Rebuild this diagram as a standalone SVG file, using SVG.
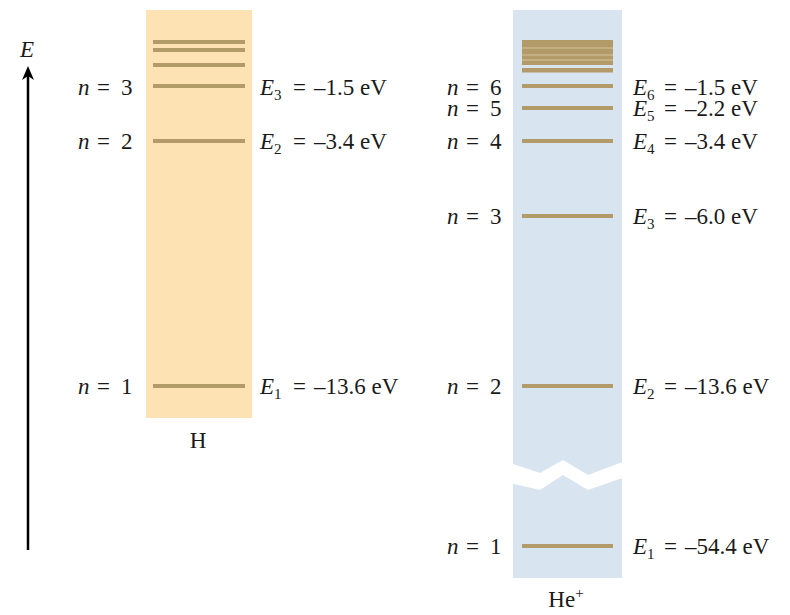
<svg xmlns="http://www.w3.org/2000/svg" width="790" height="615" viewBox="0 0 790 615">
<defs>
<style>
.t{font-family:"Liberation Serif","Times New Roman",serif;font-size:23px;fill:#1a1a1a}
.i{font-style:italic}
.sub{font-size:15px}
.lvl{fill:#b39b69}
</style>
</defs>
<rect width="790" height="615" fill="#fff"/>

<g id="axis">
<line x1="28" y1="550" x2="28" y2="72" stroke="#000" stroke-width="2.5"/>
<path d="M28,66 L34,80 L28,76 L22,80 Z" fill="#000"/>
<text class="t i" x="20" y="57" font-size="20">E</text>
</g>

<g id="H">
<rect x="146" y="10" width="106" height="408" fill="#fde3b4"/>
<rect class="lvl" x="153" y="40" width="92" height="4"/>
<rect class="lvl" x="153" y="48" width="92" height="4"/>
<rect class="lvl" x="153" y="63" width="92" height="4"/>
<rect class="lvl" x="153" y="84" width="92" height="4"/>
<rect class="lvl" x="153" y="139" width="92" height="4"/>
<rect class="lvl" x="153" y="384" width="92" height="4"/>
<text class="t" x="198" y="448" text-anchor="middle">H</text>
<text class="t"><tspan class="i" x="78" y="95">n</tspan><tspan x="97">=</tspan><tspan x="121">3</tspan></text>
<text class="t"><tspan class="i" x="78" y="149">n</tspan><tspan x="97">=</tspan><tspan x="121">2</tspan></text>
<text class="t"><tspan class="i" x="78" y="394">n</tspan><tspan x="97">=</tspan><tspan x="121">1</tspan></text>
<text class="t"><tspan class="i" x="260" y="95">E</tspan><tspan class="sub" dy="5">3</tspan><tspan x="293" dy="-5">=</tspan><tspan x="314">–1.5 eV</tspan></text>
<text class="t"><tspan class="i" x="260" y="149">E</tspan><tspan class="sub" dy="5">2</tspan><tspan x="293" dy="-5">=</tspan><tspan x="314">–3.4 eV</tspan></text>
<text class="t"><tspan class="i" x="260" y="394">E</tspan><tspan class="sub" dy="5">1</tspan><tspan x="293" dy="-5">=</tspan><tspan x="314">–13.6 eV</tspan></text>
</g>

<g id="HePlus">
<rect x="513" y="10" width="109" height="568" fill="#d8e4f0"/>
<rect class="lvl" x="522" y="40" width="91" height="25"/>
<rect x="522" y="47.5" width="91" height="1" fill="#d3c39a"/>
<rect x="522" y="54.5" width="91" height="1" fill="#d3c39a"/>
<rect x="522" y="59.5" width="91" height="1" fill="#d3c39a"/>
<rect class="lvl" x="522" y="68" width="91" height="4.5"/>
<rect class="lvl" x="522" y="84" width="91" height="4"/>
<rect class="lvl" x="522" y="106" width="91" height="4"/>
<rect class="lvl" x="522" y="139" width="91" height="4"/>
<rect class="lvl" x="522" y="214" width="91" height="4"/>
<rect class="lvl" x="522" y="384" width="91" height="4"/>
<rect class="lvl" x="522" y="544" width="91" height="4"/>
<polygon points="510,463 540,473 563,460 588,475 625,461 625,477 588,490 563,475 540,490 510,483" fill="#fff"/>
<text class="t" x="566" y="607" text-anchor="middle">He<tspan class="sub" dy="-9">+</tspan></text>
<text class="t"><tspan class="i" x="447" y="95">n</tspan><tspan x="466">=</tspan><tspan x="490">6</tspan></text>
<text class="t"><tspan class="i" x="447" y="116">n</tspan><tspan x="466">=</tspan><tspan x="490">5</tspan></text>
<text class="t"><tspan class="i" x="447" y="149">n</tspan><tspan x="466">=</tspan><tspan x="490">4</tspan></text>
<text class="t"><tspan class="i" x="447" y="224">n</tspan><tspan x="466">=</tspan><tspan x="490">3</tspan></text>
<text class="t"><tspan class="i" x="447" y="394">n</tspan><tspan x="466">=</tspan><tspan x="490">2</tspan></text>
<text class="t"><tspan class="i" x="447" y="554">n</tspan><tspan x="466">=</tspan><tspan x="490">1</tspan></text>
<text class="t"><tspan class="i" x="633" y="95">E</tspan><tspan class="sub" dy="5">6</tspan><tspan x="664" dy="-5">=</tspan><tspan x="685">–1.5 eV</tspan></text>
<text class="t"><tspan class="i" x="633" y="116">E</tspan><tspan class="sub" dy="5">5</tspan><tspan x="664" dy="-5">=</tspan><tspan x="685">–2.2 eV</tspan></text>
<text class="t"><tspan class="i" x="633" y="149">E</tspan><tspan class="sub" dy="5">4</tspan><tspan x="664" dy="-5">=</tspan><tspan x="685">–3.4 eV</tspan></text>
<text class="t"><tspan class="i" x="633" y="224">E</tspan><tspan class="sub" dy="5">3</tspan><tspan x="664" dy="-5">=</tspan><tspan x="685">–6.0 eV</tspan></text>
<text class="t"><tspan class="i" x="633" y="394">E</tspan><tspan class="sub" dy="5">2</tspan><tspan x="664" dy="-5">=</tspan><tspan x="685">–13.6 eV</tspan></text>
<text class="t"><tspan class="i" x="633" y="554">E</tspan><tspan class="sub" dy="5">1</tspan><tspan x="664" dy="-5">=</tspan><tspan x="685">–54.4 eV</tspan></text>
</g>
</svg>
